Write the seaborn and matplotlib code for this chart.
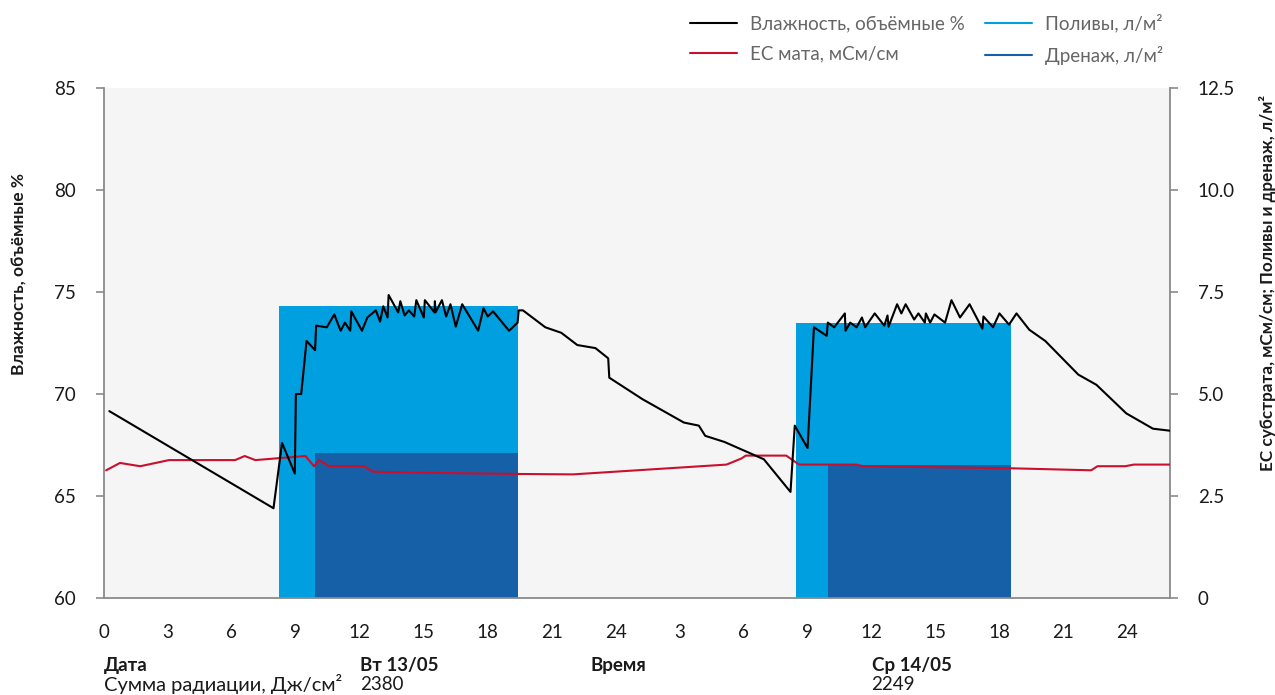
import numpy as np
import pandas as pd
import matplotlib
matplotlib.use("Agg")
import matplotlib.pyplot as plt
from matplotlib.lines import Line2D
import seaborn as sns

# ---------------- data ----------------
moist_hours = [0.25, 7.95, 8.35, 8.95, 9.0, 9.25, 9.5, 9.9, 9.95, 10.45, 10.8, 11.1, 11.3, 11.55,
               11.6, 12.1, 12.35, 12.75, 12.95, 13.1, 13.3, 13.35, 13.8, 13.9, 14.1, 14.3, 14.55,
               14.65, 15.0, 15.05, 15.5, 15.52, 15.55, 15.85, 16.05, 16.25, 16.5, 16.8, 17.55,
               17.8, 18.0, 18.25, 19.0, 19.4, 19.45, 19.65, 20.7, 21.45, 22.2, 23.05, 23.65,
               23.7, 25.25, 27.2, 27.9, 28.2, 29.1, 30.95, 32.2, 32.4, 33.0, 33.3, 33.9, 33.95,
               34.25, 34.75, 34.78, 35.0, 35.3, 35.55, 35.7, 36.15, 36.6, 36.75, 36.8, 37.2,
               37.4, 37.6, 38.0, 38.2, 38.5, 38.55, 38.75, 38.95, 39.45, 39.75, 40.15, 40.6,
               41.2, 41.25, 41.7, 42.0, 42.45, 42.8, 43.4, 44.15, 45.7, 46.55, 47.95, 49.2, 50.0]
moisture = [69.16, 64.4, 67.6, 66.1, 70.0, 70.0, 72.6, 72.15, 73.35, 73.27, 73.9, 73.1, 73.5, 73.1,
            74.05, 73.1, 73.75, 74.1, 73.55, 74.3, 73.75, 74.85, 74.0, 74.55, 73.85, 74.1, 73.8,
            74.6, 73.75, 74.6, 74.0, 74.55, 74.0, 74.6, 73.8, 74.4, 73.3, 74.4, 73.1,
            74.2, 73.8, 74.05, 73.1, 73.5, 74.1, 74.1, 73.27, 73.0, 72.4, 72.25, 71.75,
            70.8, 69.75, 68.6, 68.45, 67.95, 67.65, 66.8, 65.2, 68.45, 67.35, 73.27, 72.85, 73.5,
            73.27, 73.95, 73.1, 73.5, 73.27, 73.75, 73.27, 73.95, 73.35, 73.85, 73.3, 74.4,
            73.95, 74.4, 73.65, 73.95, 73.5, 73.95, 73.5, 73.9, 73.5, 74.6, 73.75, 74.4,
            73.2, 73.8, 73.27, 73.95, 73.4, 73.95, 73.15, 72.6, 70.95, 70.45, 69.05, 68.3, 68.2]

ec_hours = [0.1, 0.75, 1.7, 3.05, 6.15, 6.6, 7.1, 9.45, 9.85, 10.1, 10.55, 12.2, 12.6, 13.5,
            19.4, 22.0, 29.2, 29.9, 30.1, 32.0, 32.6, 35.3, 35.6, 42.5, 46.3, 46.6, 47.9, 48.3, 50.0]
ec_mat = [3.13, 3.31, 3.23, 3.38, 3.38, 3.48, 3.38, 3.48, 3.23, 3.38, 3.23, 3.23, 3.10, 3.08,
          3.04, 3.03, 3.27, 3.42, 3.49, 3.49, 3.27, 3.27, 3.23, 3.18, 3.13, 3.23, 3.23, 3.27, 3.27]

irr_start = [8.2, 32.45]
irr_end = [19.42, 42.52]
irr_volume = [7.16, 6.75]

drain_start = [9.9, 33.95]
drain_end = [19.42, 42.52]
drain_volume = [3.55, 3.26]

xtick_pos = list(range(0, 49, 3))
xtick_labels = ["0", "3", "6", "9", "12", "15", "18", "21", "24",
                "3", "6", "9", "12", "15", "18", "21", "24"]
left_ticks = [60, 65, 70, 75, 80, 85]
right_ticks = [0, 2.5, 5.0, 7.5, 10.0, 12.5]
right_tick_labels = ["0", "2.5", "5.0", "7.5", "10.0", "12.5"]

legend_labels = ["Влажность, объёмные %", "EC мата, мСм/см", "Поливы, л/м²", "Дренаж, л/м²"]
dates = ["Вт 13/05", "Ср 14/05"]
date_pos = [12.0, 36.0]
radiation = ["2380", "2249"]

# ---------------- style ----------------
sns.set_theme(style="white")
FONTS = ["Lato", "DejaVu Sans"]
plt.rcParams["font.family"] = FONTS

C_BLACK = "#000000"
C_RED = "#C8102E"
C_LIGHT = "#009FE0"
C_DARK = "#1560A6"
C_SPINE = "#8a8a8a"
C_BG = "#f5f5f5"
TXT = "#1a1a1a"
FS = 13.5

fig = plt.figure(figsize=(12.75, 6.95), dpi=100)
ax = fig.add_axes([104/1275, 1 - 598/695, (1170-104)/1275, (598-88)/695])
ax2 = ax.twinx()

ax.set_zorder(ax2.get_zorder() + 1)
ax.patch.set_visible(False)
ax2.patch.set_visible(True)
ax2.set_facecolor(C_BG)

# bars (right axis)
ax2.bar(irr_start, irr_volume, width=np.array(irr_end) - np.array(irr_start),
        align="edge", color=C_LIGHT, linewidth=0, zorder=1)
ax2.bar(drain_start, drain_volume, width=np.array(drain_end) - np.array(drain_start),
        align="edge", color=C_DARK, linewidth=0, zorder=2)

# EC line (right axis)
df_ec = pd.DataFrame({"h": ec_hours, "ec": ec_mat})
sns.lineplot(data=df_ec, x="h", y="ec", ax=ax2, color=C_RED, lw=1.5,
             estimator=None, sort=False, zorder=3)

# moisture line (left axis)
df_m = pd.DataFrame({"h": moist_hours, "m": moisture})
sns.lineplot(data=df_m, x="h", y="m", ax=ax, color=C_BLACK, lw=1.5,
             estimator=None, sort=False, zorder=4)

ax.set_xlim(0, 50)
ax.set_ylim(60, 85)
ax2.set_ylim(0, 12.5)

ax.set_xticks(xtick_pos)
ax.set_xticklabels(xtick_labels)
ax.set_yticks(left_ticks)
ax.set_yticklabels([str(t) for t in left_ticks])
ax2.set_yticks(right_ticks)
ax2.set_yticklabels(right_tick_labels)

ax.set_xlabel("")
ax.set_ylabel("")
ax2.set_ylabel("")

for a in (ax, ax2):
    a.spines["top"].set_visible(False)
    for s in ("left", "right", "bottom"):
        a.spines[s].set_color(C_SPINE)
        a.spines[s].set_linewidth(1.3)
    a.tick_params(axis="both", direction="out", length=6, width=1.2, color=C_SPINE,
                  labelsize=FS, labelcolor=TXT)
    a.grid(False)
ax.tick_params(axis="x", pad=13)
ax.tick_params(axis="y", pad=14, left=True)
ax2.tick_params(axis="y", pad=14, right=True)
ax.spines["right"].set_visible(False)
ax2.spines["left"].set_visible(False)
ax2.spines["bottom"].set_visible(False)

# axis titles
fig.text(20/1275, 1 - 274/695, "Влажность, объёмные %", rotation=90, ha="center", va="center",
         fontsize=12.5, fontweight="bold", color=TXT)
fig.text(1267/1275, 1 - 283/695, "EC субстрата, мСм/см; Поливы и дренаж, л/м²", rotation=90,
         ha="center", va="center", fontsize=12.3, fontweight="bold", color=TXT)

# legend
handles = [Line2D([], [], color=C_BLACK, lw=1.5),
           Line2D([], [], color=C_RED, lw=1.5),
           Line2D([], [], color=C_LIGHT, lw=1.5),
           Line2D([], [], color=C_DARK, lw=1.5)]
leg = fig.legend(handles, legend_labels, ncol=2, loc="upper right",
                 bbox_to_anchor=(1180/1275, 1 + 3/695), frameon=False, fontsize=FS,
                 handlelength=2.5, handletextpad=0.7, columnspacing=1.1, labelspacing=0.7)
for t in leg.get_texts():
    t.set_color("#666666")

# bottom annotations
fig.text(104/1275, 1 - 665/695, "Дата", ha="left", va="center", fontsize=FS,
         fontweight="bold", color=TXT)
fig.text(104/1275, 1 - 684/695, "Сумма радиации, Дж/см²", ha="left", va="center",
         fontsize=14.5, color=TXT)
fig.text(590/1275, 1 - 665/695, "Время", ha="left", va="center", fontsize=FS,
         fontweight="bold", color=TXT)
for d, x, r in zip(dates, date_pos, radiation):
    ax.text(x, -0.132, d, transform=ax.get_xaxis_transform(), ha="left", va="center",
            fontsize=FS, fontweight="bold", color=TXT)
    ax.text(x, -0.169, r, transform=ax.get_xaxis_transform(), ha="left", va="center",
            fontsize=FS, color=TXT)

fig.savefig("out.png", dpi=100, facecolor="white")
